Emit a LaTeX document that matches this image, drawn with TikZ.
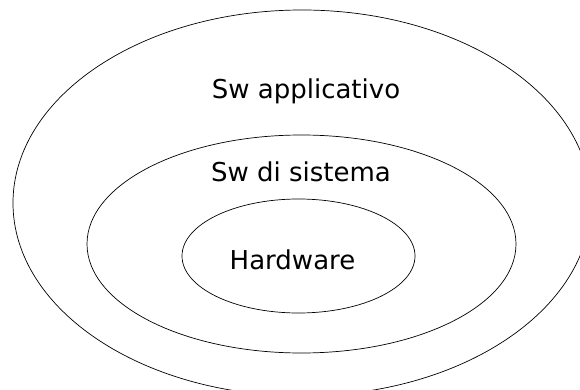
\documentclass[tikz,border=0pt]{standalone}
\usepackage{fontspec}
\setmainfont{DejaVu Sans}
\usetikzlibrary{shapes.geometric}
\begin{document}
\begin{tikzpicture}[x=1pt,y=-1pt,
  layer/.style={draw=black, line width=0.7pt, ellipse, inner sep=0pt, outer sep=0pt},
  lbl/.style={anchor=base, inner sep=0pt, font=\fontsize{26}{31}\selectfont}]
  \useasboundingbox (0,0) rectangle (580,390);
  \clip (0,0) rectangle (580,390);
  \fill[white] (0,0) rectangle (580,390);
  % three nested layers
  \node[layer, minimum width=578pt, minimum height=386pt] (app) at (302,203) {};
  \node[layer, minimum width=429pt, minimum height=218pt] (sys) at (301.5,244) {};
  \node[layer, minimum width=233pt, minimum height=114pt] (hw) at (298.5,256) {};
  % layer names
  \node[lbl] (tapp) at (306,99) {Sw applicativo};
  \node[lbl] (tsys) at (301,182) {Sw di sistema};
  \node[lbl] (thw) at (292.5,269) {Hardware};
\end{tikzpicture}
\end{document}
